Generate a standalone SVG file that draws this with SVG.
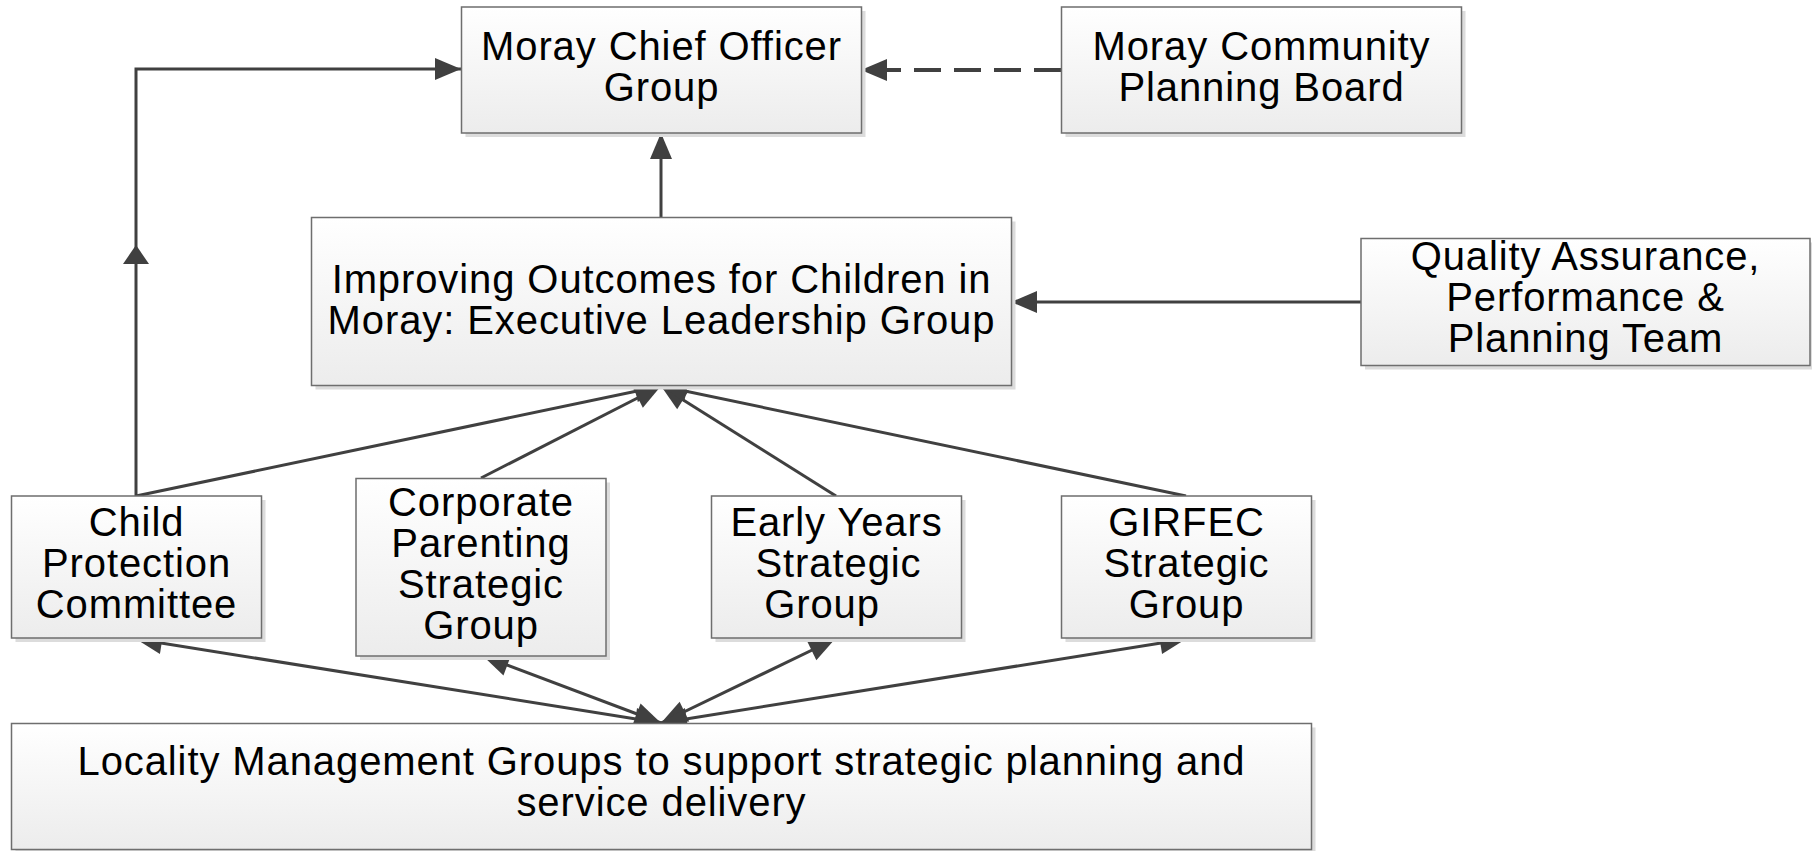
<svg xmlns="http://www.w3.org/2000/svg" width="1812" height="851" viewBox="0 0 1812 851">
<defs>
<linearGradient id="fillg" x1="0" y1="0" x2="0" y2="1">
<stop offset="0" stop-color="#ffffff"/>
<stop offset="1" stop-color="#ececec"/>
</linearGradient>
<marker id="arr" markerUnits="userSpaceOnUse" markerWidth="28" markerHeight="24" refX="26" refY="11" orient="auto-start-reverse" overflow="visible">
<path d="M0,0 L26,11 L0,22 z" fill="#404040"/>
</marker>
<marker id="midarr" markerUnits="userSpaceOnUse" markerWidth="22" markerHeight="28" refX="19" refY="13" orient="auto" overflow="visible">
<path d="M0,0 L19,13 L0,26 z" fill="#404040"/>
</marker>
<style>
.shadow{fill:#dcdcdc;}
.box{fill:url(#fillg);stroke:#6e6e6e;stroke-width:1.5;}
.t{font-family:"Liberation Sans",Arial,sans-serif;font-size:40px;letter-spacing:0.9px;fill:#000;text-anchor:middle;}
.c{fill:none;stroke:#404040;stroke-width:3;}
.d{fill:none;stroke:#404040;stroke-width:4;stroke-dasharray:27 13;}
</style>
</defs>

<g id="connectors">
<path class="c" d="M136,496 V245" marker-end="url(#midarr)"/>
<path class="c" d="M136,245 V69 H461" marker-end="url(#arr)"/>
<path class="c" d="M661,217 V133" marker-end="url(#arr)"/>
<path class="d" d="M1061,70 H861" marker-end="url(#arr)"/>
<path class="c" d="M1361,302 H1011" marker-end="url(#arr)"/>
<path class="c" d="M136,496 L661,386" marker-end="url(#arr)"/>
<path class="c" d="M481,478 L661,386" marker-end="url(#arr)"/>
<path class="c" d="M836,496 L661,386" marker-end="url(#arr)"/>
<path class="c" d="M1186,496 L661,386" marker-end="url(#arr)"/>
<path class="c" d="M661,723 L136,639" marker-start="url(#arr)" marker-end="url(#arr)"/>
<path class="c" d="M661,723 L483,656" marker-start="url(#arr)" marker-end="url(#arr)"/>
<path class="c" d="M661,723 L835,639" marker-start="url(#arr)" marker-end="url(#arr)"/>
<path class="c" d="M661,723 L1186,639" marker-start="url(#arr)" marker-end="url(#arr)"/>
</g>

<g id="chief-officer">
<rect class="shadow" x="465.5" y="11" width="400" height="126"/>
<rect class="box" x="461.5" y="7" width="400" height="126"/>
<text class="t" x="661.5" y="60">Moray Chief Officer</text>
<text class="t" x="661.5" y="101">Group</text>
</g>

<g id="community-planning">
<rect class="shadow" x="1065.5" y="11" width="400" height="126"/>
<rect class="box" x="1061.5" y="7" width="400" height="126"/>
<text class="t" x="1261.5" y="60">Moray Community</text>
<text class="t" x="1261.5" y="101">Planning Board</text>
</g>

<g id="improving-outcomes">
<rect class="shadow" x="315.5" y="221.5" width="700" height="168"/>
<rect class="box" x="311.5" y="217.5" width="700" height="168"/>
<text class="t" x="661.5" y="293">Improving Outcomes for Children in</text>
<text class="t" x="661.5" y="334">Moray: Executive Leadership Group</text>
</g>

<g id="quality-assurance">
<rect class="shadow" x="1365" y="242.5" width="449" height="127"/>
<rect class="box" x="1361" y="238.5" width="449" height="127"/>
<text class="t" x="1585.5" y="270">Quality Assurance,</text>
<text class="t" x="1585.5" y="311">Performance &amp;</text>
<text class="t" x="1585.5" y="352">Planning Team</text>
</g>

<g id="child-protection">
<rect class="shadow" x="15.5" y="500" width="250" height="142"/>
<rect class="box" x="11.5" y="496" width="250" height="142"/>
<text class="t" x="136.5" y="536">Child</text>
<text class="t" x="136.5" y="577">Protection</text>
<text class="t" x="136.5" y="618">Committee</text>
</g>

<g id="corporate-parenting">
<rect class="shadow" x="360" y="482.5" width="250" height="177.5"/>
<rect class="box" x="356" y="478.5" width="250" height="177.5"/>
<text class="t" x="481" y="516">Corporate</text>
<text class="t" x="481" y="557">Parenting</text>
<text class="t" x="481" y="598">Strategic</text>
<text class="t" x="481" y="639">Group</text>
</g>

<g id="early-years">
<rect class="shadow" x="715.5" y="500" width="250" height="142"/>
<rect class="box" x="711.5" y="496" width="250" height="142"/>
<text class="t" x="836.5" y="536">Early Years</text>
<text class="t" x="838.5" y="577">Strategic</text>
<text class="t" x="822" y="618">Group</text>
</g>

<g id="girfec">
<rect class="shadow" x="1065.5" y="500" width="250" height="142"/>
<rect class="box" x="1061.5" y="496" width="250" height="142"/>
<text class="t" x="1186.5" y="536">GIRFEC</text>
<text class="t" x="1186.5" y="577">Strategic</text>
<text class="t" x="1186.5" y="618">Group</text>
</g>

<g id="locality">
<rect class="shadow" x="15.5" y="727.5" width="1300" height="126"/>
<rect class="box" x="11.5" y="723.5" width="1300" height="126"/>
<text class="t" x="661.5" y="775">Locality Management Groups to support strategic planning and</text>
<text class="t" x="661.5" y="816">service delivery</text>
</g>
</svg>
